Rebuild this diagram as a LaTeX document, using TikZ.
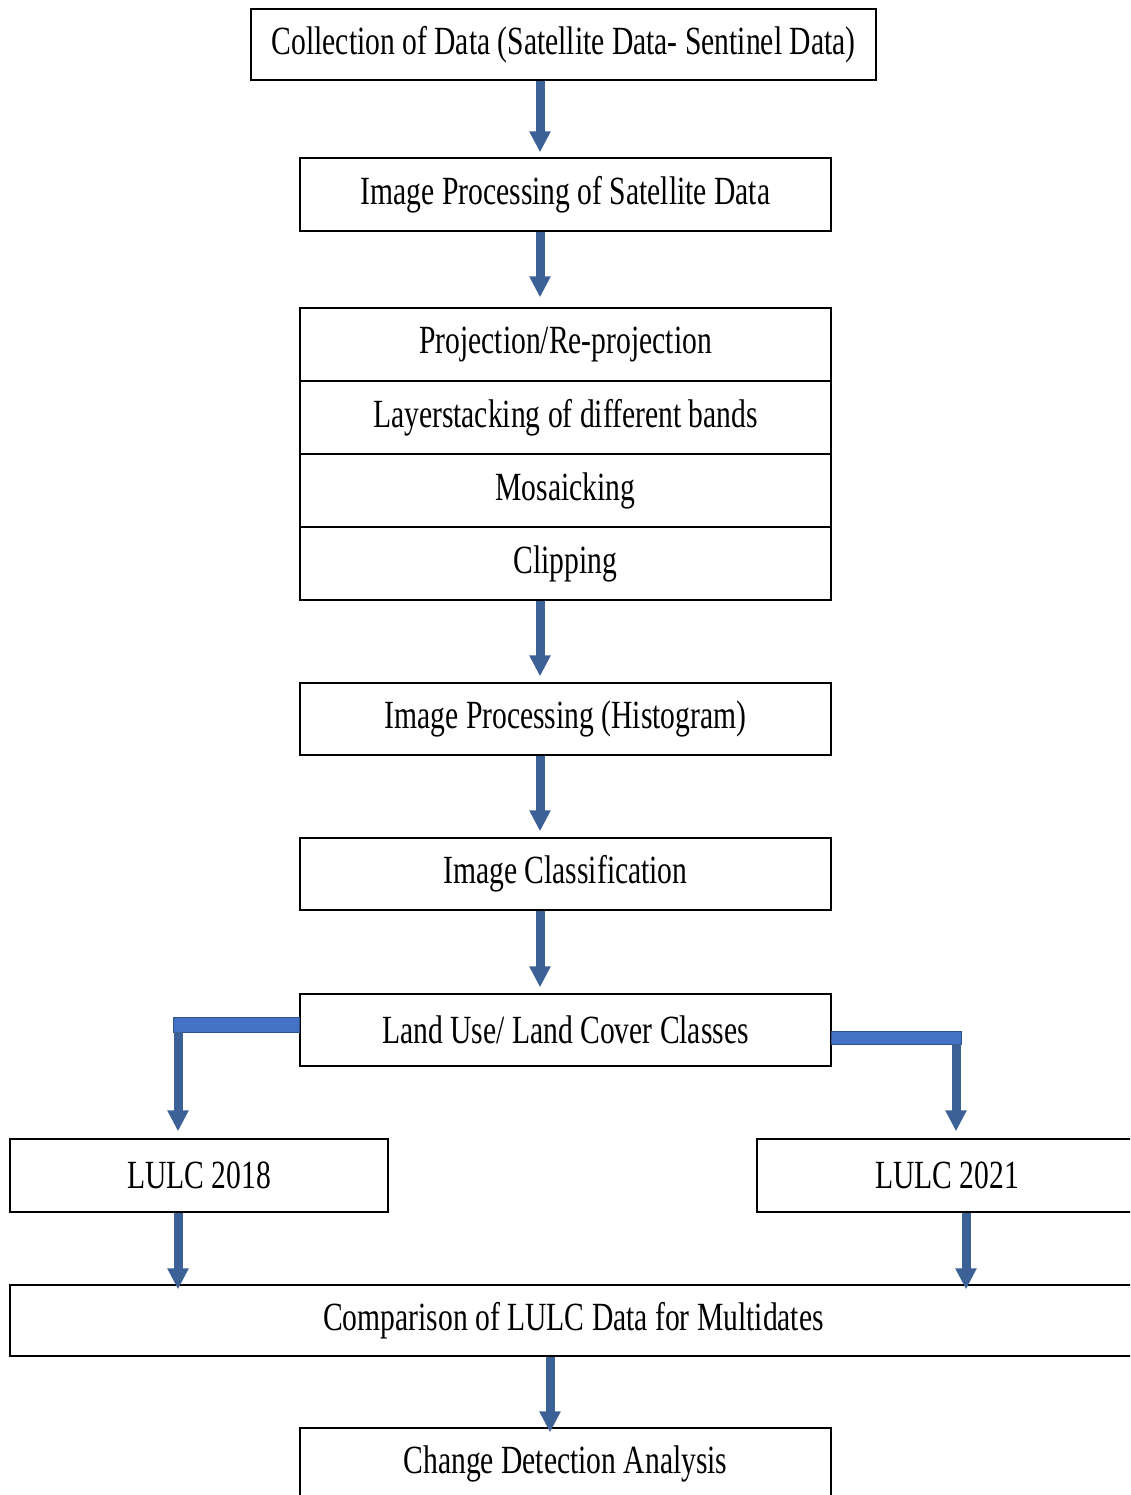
\documentclass[tikz,border=0pt]{standalone}
\usepackage{fontspec}
\newfontfamily\nf[FakeStretch=0.74]{Liberation Serif}
\usetikzlibrary{arrows.meta}
\definecolor{arrowblue}{RGB}{60,97,150}
\definecolor{barblue}{RGB}{68,114,196}
\definecolor{barborder}{RGB}{47,82,143}
\tikzset{
  box/.style={draw=black, line width=1.3pt, inner sep=0pt, minimum height=73pt,
    font=\nf\fontsize{40}{44}\selectfont},
  varrow/.style={draw=arrowblue, line width=9pt, -{Triangle[width=20pt,length=21pt]}},
  hbar/.style={fill=barblue, draw=barborder, line width=1pt}
}
\begin{document}
\begin{tikzpicture}[x=1pt,y=-1pt]
\useasboundingbox (0,0) rectangle (1130,1495);
\clip (0,0) rectangle (1130,1495);
\fill[white] (0,0) rectangle (1130,1495);
\coordinate (ax) at (540,0);
\coordinate (cx) at (550,0);
\coordinate (lx) at (178,0);
\coordinate (rx) at (956,0);
\coordinate (rx2) at (966,0);

\node[box, minimum width=625pt, minimum height=71pt] (collect) at (563.5,44.5) {Collection of Data (Satellite Data- Sentinel Data)};
\node[box, minimum width=531pt] (improc) at (565.5,194.5) {Image Processing of Satellite Data};
\node[box, minimum width=531pt] (proj) at (565.5,344.5) {Projection/Re-projection};
\node[box, minimum width=531pt] (layer) at (565.5,417.5) {Layerstacking of different bands};
\node[box, minimum width=531pt] (mosaic) at (565.5,490.5) {Mosaicking};
\node[box, minimum width=531pt] (clip) at (565.5,563.5) {Clipping};
\node[box, minimum width=531pt, minimum height=72pt] (hist) at (565.5,719) {Image Processing (Histogram)};
\node[box, minimum width=531pt, minimum height=72pt] (class) at (565.5,874) {Image Classification};
\node[box, minimum width=531pt, minimum height=72pt] (land) at (565.5,1030) {Land Use/ Land Cover Classes};
\node[box, minimum width=378pt] (l18) at (199,1175.5) {LULC 2018};
\node[box, minimum width=380pt] (l21) at (947,1175.5) {LULC 2021};
\node[box, minimum width=1127pt, minimum height=71pt] (cmp) at (573.5,1320.5) {Comparison of LULC Data for Multidates};
\node[box, minimum width=531pt, minimum height=72pt] (chg) at (565.5,1464) {Change Detection Analysis};

\draw[varrow, shorten >=5pt] (collect.south -| ax) -- (improc.north -| ax);
\draw[varrow, shorten >=10pt] (improc.south -| ax) -- (proj.north -| ax);
\draw[varrow, shorten >=6pt] (clip.south -| ax) -- (hist.north -| ax);
\draw[varrow, shorten >=6pt] (hist.south -| ax) -- (class.north -| ax);
\draw[varrow, shorten >=6pt] (class.south -| ax) -- (land.north -| ax);

% elbows
\coordinate (lcorner) at (173,1032);
\coordinate (rcorner) at (961,1044);
\path[hbar] ([yshift=13pt]land.west) rectangle (lcorner);
\path[hbar] ([yshift=-1pt]land.east) rectangle (rcorner);
\draw[varrow, shorten >=7pt] (lcorner -| lx) -- (l18.north -| lx);
\draw[varrow, shorten >=7pt] (rcorner -| rx) -- (l21.north -| rx);

\draw[varrow, shorten >=-5pt] (l18.south -| lx) -- (cmp.north -| lx);
\draw[varrow, shorten >=-5pt] (l21.south -| rx2) -- (cmp.north -| rx2);
\draw[varrow, shorten >=-5pt] (cmp.south -| cx) -- (chg.north -| cx);
\end{tikzpicture}
\end{document}
